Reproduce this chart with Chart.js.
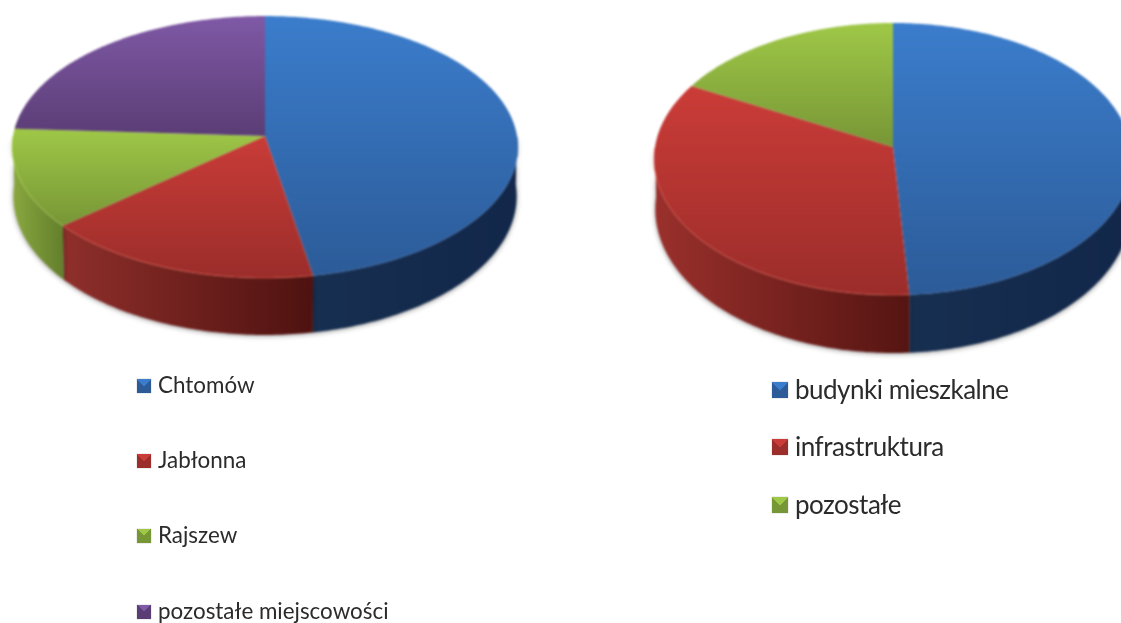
<!DOCTYPE html>
<html>
<head>
<meta charset="utf-8">
<script src="https://cdn.jsdelivr.net/npm/chart.js@4"></script>
<style>
html, body { margin: 0; padding: 0; background: #fff; overflow: hidden; width: 1121px; height: 623px; }
canvas { position: absolute; top: 0; filter: blur(0.8px); }
#c1 { left: 0; }
#c2 { left: 560px; }
.item { position: absolute; white-space: nowrap; color: #2b2b2b; font-family: Lato, sans-serif; filter: blur(0.45px); }
.box { position: absolute; box-shadow: 0 0 1px rgba(0,0,0,.4); filter: blur(0.4px); }
</style>
</head>
<body>
<canvas id="c1" width="560" height="623"></canvas>
<canvas id="c2" width="600" height="623"></canvas>
<script>
// left pie
let labelsA = ['Chtomów', 'Jabłonna', 'Rajszew', 'pozostałe miejscowości'];
let valuesA = [47.2, 16.5, 12.2, 24.1];
// right pie
let labelsB = ['budynki mieszkalne', 'infrastruktura', 'pozostałe'];
let valuesB = [49, 33.8, 17.2];

let topA = ['#3b7dcc', '#c93c38', '#9fc847', '#7f59a6'];
let bottomA = ['#2c5b98', '#9b2d2a', '#779636', '#5b3d75'];
let wallLeftA = ['#172f50', '#8f2f2b', '#8aa840', '#5b3d75'];
let wallRightA = ['#12274a', '#4e1210', '#637f2c', '#5b3d75'];
let rimA = ['rgba(70,120,190,.3)', 'rgba(236,100,85,.55)', 'rgba(175,220,80,.6)', 'rgba(0,0,0,0)'];

let topB = ['#3b7dcc', '#cb3c38', '#9fc847'];
let bottomB = ['#2c5b98', '#9b2d2a', '#779636'];
let wallLeftB = ['#172f50', '#9a302c', '#779636'];
let wallRightB = ['#12274a', '#551512', '#779636'];
let rimB = ['rgba(70,120,190,.3)', 'rgba(236,100,85,.55)', 'rgba(0,0,0,0)'];

// draws the arcs tilted, with the side wall under them
let tiltPlugin = {
    id: 'tilt',
    beforeDatasetsDraw(chart, args, o) {
        let ctx = chart.ctx;
        let arcs = chart.getDatasetMeta(0).data;

        function rimPoint(el, a, drop) {
            let u = Math.cos(a), v = Math.sin(a);
            let w = 1 - o.p * v;
            let x = el.x + el.outerRadius * u / w;
            let y = o.apexY + el.outerRadius * o.squash * v / w;
            if (drop) {
                x = el.x + (x - el.x) * 0.995;
                y += o.depth * (0.85 + 0.15 * v);
            }
            return [x, y];
        }
        function rimAngles(el, frontOnly) {
            let list = [];
            let steps = Math.max(2, Math.ceil((el.endAngle - el.startAngle) / 0.015));
            for (let i = 0; i <= steps; i++) {
                let a = el.startAngle + (el.endAngle - el.startAngle) * i / steps;
                if (!frontOnly || Math.sin(a) >= 0) list.push(a);
            }
            return list;
        }
        function gradientFor(pts, vertical, c1, c2) {
            let xs = pts.map(p => p[0]), ys = pts.map(p => p[1]);
            let g = vertical
                ? ctx.createLinearGradient(0, Math.min(...ys), 0, Math.max(...ys))
                : ctx.createLinearGradient(Math.min(...xs), 0, Math.max(...xs), 0);
            g.addColorStop(0, c1);
            g.addColorStop(1, c2);
            return g;
        }

        ctx.save();
        // walls
        arcs.forEach((el, i) => {
            let angles = rimAngles(el, true);
            if (angles.length < 2) return;
            let upper = angles.map(a => rimPoint(el, a, false));
            let lower = angles.map(a => rimPoint(el, a, true));
            ctx.save();
            ctx.shadowColor = 'rgba(0,0,0,.4)';
            ctx.shadowBlur = 5;
            ctx.shadowOffsetY = 1;
            ctx.fillStyle = gradientFor(upper, false, o.wallLeft[i], o.wallRight[i]);
            ctx.beginPath();
            upper.forEach((p, k) => k ? ctx.lineTo(p[0], p[1]) : ctx.moveTo(p[0], p[1]));
            lower.reverse().forEach(p => ctx.lineTo(p[0], p[1]));
            ctx.closePath();
            ctx.fill();
            ctx.restore();
        });
        // top faces
        arcs.forEach((el, i) => {
            let pts = rimAngles(el, false).map(a => rimPoint(el, a, false));
            pts.push([el.x, o.apexY]);
            ctx.fillStyle = gradientFor(pts, true, o.top[i], o.bottom[i]);
            ctx.beginPath();
            pts.forEach((p, k) => k ? ctx.lineTo(p[0], p[1]) : ctx.moveTo(p[0], p[1]));
            ctx.closePath();
            ctx.fill();
        });
        // light edge on the front rim
        arcs.forEach((el, i) => {
            let pts = rimAngles(el, true).map(a => rimPoint(el, a, false));
            if (pts.length < 2) return;
            ctx.strokeStyle = o.rim[i];
            ctx.lineWidth = 1;
            ctx.beginPath();
            pts.forEach((p, k) => k ? ctx.lineTo(p[0], p[1]) : ctx.moveTo(p[0], p[1]));
            ctx.stroke();
        });
        ctx.restore();
        return false;
    }
};

function makePie(id, labels, values, padding, tilt) {
    return new Chart(document.getElementById(id), {
        type: 'pie',
        data: {
            labels: labels,
            datasets: [{ data: values, backgroundColor: tilt.top, borderWidth: 0 }]
        },
        options: {
            responsive: false,
            animation: false,
            layout: { padding: padding },
            plugins: { legend: { display: false }, tooltip: { enabled: false }, tilt: tilt }
        },
        plugins: [tiltPlugin]
    });
}

makePie('c1', labelsA, valuesA, { left: 13, right: 43 }, {
    apexY: 136, squash: 0.516, p: 0.084, depth: 57,
    top: topA, bottom: bottomA, wallLeft: wallLeftA, wallRight: wallRightA, rim: rimA
});
makePie('c2', labelsB, valuesB, { left: 95, right: 29 }, {
    apexY: 147, squash: 0.567, p: 0.0883, depth: 58,
    top: topB, bottom: bottomB, wallLeft: wallLeftB, wallRight: wallRightB, rim: rimB
});

function addLegend(labels, tops, bottoms, boxX, textX, ys, boxSize, fontSize, spacing) {
    labels.forEach((text, i) => {
        let box = document.createElement('div');
        box.className = 'box';
        box.style.left = boxX + 'px';
        box.style.top = (ys[i] - boxSize / 2) + 'px';
        box.style.width = boxSize + 'px';
        box.style.height = boxSize + 'px';
        box.style.background = 'conic-gradient(from 315deg, ' + tops[i] + ' 0 90deg, ' + bottoms[i] + ' 90deg 360deg)';
        document.body.appendChild(box);
        let item = document.createElement('div');
        item.className = 'item';
        item.textContent = text;
        item.style.left = textX + 'px';
        item.style.top = (ys[i] - fontSize * 0.62) + 'px';
        item.style.fontSize = fontSize + 'px';
        item.style.lineHeight = (fontSize * 1.2) + 'px';
        item.style.letterSpacing = spacing + 'px';
        document.body.appendChild(item);
    });
}
addLegend(labelsA, topA, bottomA, 137, 158, [386, 461, 536, 612], 14, 22.4, 0);
addLegend(labelsB, topB, bottomB, 772, 795, [390, 447, 505], 16, 26, -0.5);
</script>
</body>
</html>
